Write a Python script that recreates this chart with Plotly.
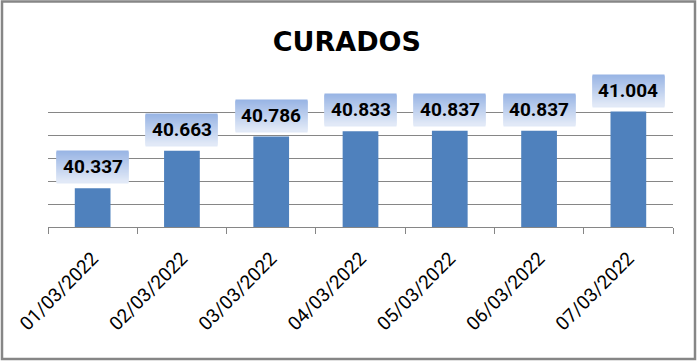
import plotly.graph_objects as go

dates = ["01/03/2022", "02/03/2022", "03/03/2022", "04/03/2022",
         "05/03/2022", "06/03/2022", "07/03/2022"]
curados = [40337, 40663, 40786, 40833, 40837, 40837, 41004]
labels = ["40.337", "40.663", "40.786", "40.833", "40.837", "40.837", "41.004"]
title_text = "CURADOS"
y_range = [40000, 41200]
y_step = 200

BAR = "#4F81BD"
GRID = "#868686"
TOP = (152, 180, 228)
BOT = (225, 233, 247)

fig = go.Figure()
fig.add_trace(go.Bar(x=dates, y=curados, marker=dict(color=BAR, line=dict(width=0)),
                     width=0.4, hoverinfo="skip"))

BOX_W, BOX_H, GAP = 71, 31, 6
annotations = []
for d, v, lab in zip(dates, curados, labels):
    center = GAP + BOX_H / 2
    top = center + BOX_H / 2
    for k in range(BOX_H):
        t = k / (BOX_H - 1)
        c = tuple(round(TOP[i] + (BOT[i] - TOP[i]) * t) for i in range(3))
        annotations.append(dict(
            x=d, y=v, xref="x", yref="y", text=" ", showarrow=False,
            width=BOX_W, height=2, borderpad=0, bgcolor="rgb(%d,%d,%d)" % c,
            font=dict(size=1), yshift=top - k - 1, yanchor="middle"))
    annotations.append(dict(
        x=d, y=v, xref="x", yref="y", text=lab, showarrow=False,
        font=dict(family="Roboto, Arial, sans-serif", size=19, color="black",
                  weight="bold"),
        yshift=center, yanchor="middle"))

fig.update_layout(
    width=698, height=361,
    margin=dict(l=48, r=25, t=89, b=134),
    paper_bgcolor="white", plot_bgcolor="white",
    showlegend=False,
    title=dict(text="<b>" + title_text + "</b>", x=0.497, xanchor="center",
               y=1 - 42 / 361, yanchor="middle", yref="container",
               font=dict(family="DejaVu Sans, Arial, sans-serif", size=27, color="black")),
    bargap=0.6,
    annotations=annotations,
    shapes=[dict(type="rect", xref="paper", yref="paper", x0=-46/625, x1=1 + 22/625,
                 y0=-(359 - 227) / 138, y1=1 + (89 - 1.5) / 138,
                 line=dict(color=GRID, width=2.5), fillcolor="rgba(0,0,0,0)", layer="above")],
    xaxis=dict(type="category", showline=True, linecolor=GRID, linewidth=1,
               ticks="outside", ticklen=6, tickcolor=GRID, tickwidth=1,
               tickson="boundaries", tickangle=-45, showgrid=False,
               ticklabelstandoff=12,
               tickfont=dict(family="Roboto, Arial, sans-serif", size=19, color="black")),
    yaxis=dict(range=y_range, dtick=y_step, tick0=y_range[0], showgrid=True,
               gridcolor=GRID, gridwidth=1, showticklabels=False, zeroline=False,
               showline=False, ticks=""),
)

fig.write_html("out.html")
